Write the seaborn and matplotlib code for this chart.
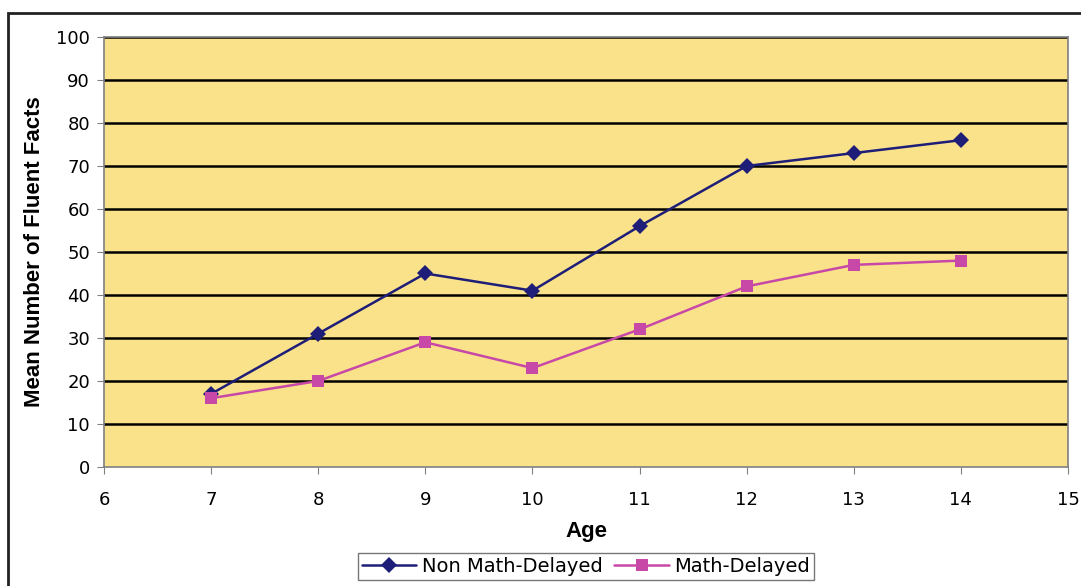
import numpy as np
import pandas as pd
import seaborn as sns
import matplotlib.pyplot as plt
from matplotlib.patches import Rectangle

ages = [7, 8, 9, 10, 11, 12, 13, 14]
non_delayed = [17, 31, 45, 41, 56, 70, 73, 76]
math_delayed = [16, 20, 29, 23, 32, 42, 47, 48]
groups = ['Non Math-Delayed', 'Math-Delayed']

df = pd.DataFrame({
    'Age': ages * 2,
    'Facts': non_delayed + math_delayed,
    'Group': [groups[0]] * len(ages) + [groups[1]] * len(ages),
})

sns.set_style('white')
plt.rcParams['font.family'] = ['DejaVu Sans']
plt.rcParams['text.color'] = 'black'
plt.rcParams['axes.labelcolor'] = 'black'
plt.rcParams['xtick.color'] = 'black'
plt.rcParams['ytick.color'] = 'black'

fig = plt.figure(figsize=(10.81, 5.86), dpi=100)
ax = fig.add_axes([0.0962, 0.2031, 0.8918, 0.7338])
ax.set_facecolor('#F9E28A')

sns.lineplot(data=df, x='Age', y='Facts', hue='Group', style='Group',
             palette={groups[0]: '#1E1E78', groups[1]: '#C848A8'},
             markers={groups[0]: 'D', groups[1]: 's'}, dashes=False,
             markersize=8, linewidth=1.8, markeredgewidth=0, ax=ax)

ax.set_xlim(6, 15)
ax.set_ylim(0, 100)
ax.set_xticks(range(6, 16))
ax.set_yticks(range(0, 101, 10))
for y in range(10, 101, 10):
    ax.axhline(y, color='black', lw=1.8, zorder=0.5)
ax.tick_params(axis='both', labelsize=13, length=5, direction='out',
               color='#808080', bottom=True, left=True)
ax.tick_params(axis='x', pad=12)
ax.tick_params(axis='y', pad=5)
for s in ax.spines.values():
    s.set_color('#808080')
    s.set_linewidth(1.2)

ax.set_xlabel('Age', fontsize=16, fontweight='bold', family='Liberation Sans', labelpad=9)
ax.set_ylabel('Mean Number of Fluent Facts', fontsize=16, fontweight='bold',
              family='Liberation Sans', labelpad=8)

leg = ax.legend(loc='upper center', bbox_to_anchor=(0.5, -0.178), ncol=2,
                fontsize=14, frameon=True, fancybox=False, handlelength=2.8,
                handletextpad=0.3, columnspacing=0.6, borderpad=0.2)
leg.get_frame().set_edgecolor('#555555')
leg.get_frame().set_linewidth(1.0)

fig.patches.append(Rectangle((8 / 1081, -0.05), 1.1, 1 - 13 / 586 + 0.05,
                             transform=fig.transFigure, fill=False,
                             edgecolor='#222222', lw=2))

fig.savefig('out.png', dpi=100)
